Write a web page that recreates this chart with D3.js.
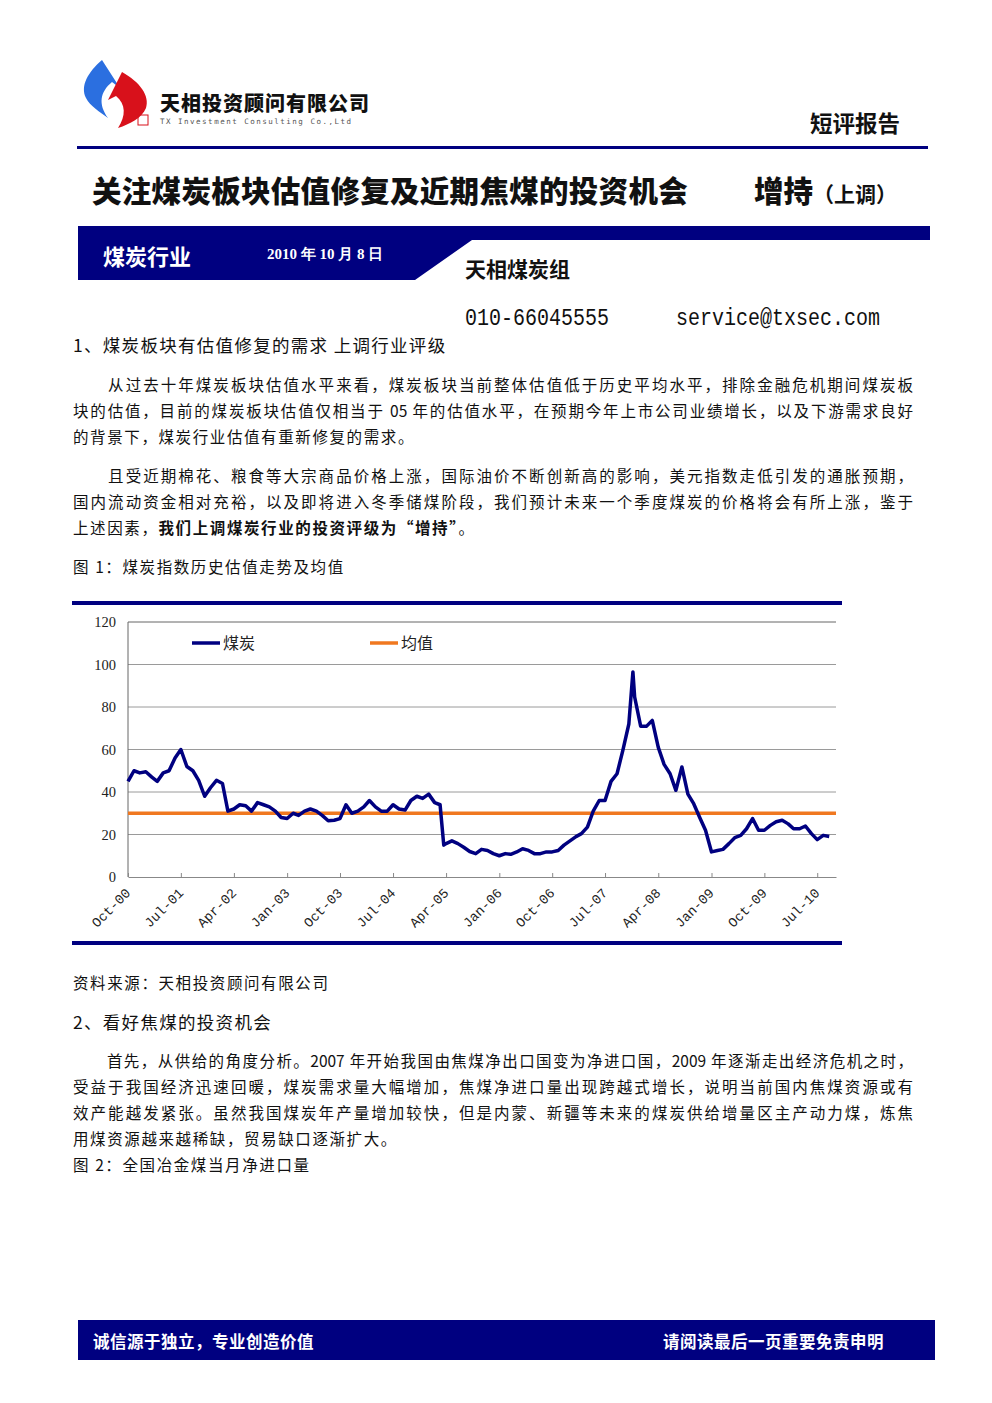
<!DOCTYPE html>
<html><head><meta charset="utf-8">
<script src="https://cdn.jsdelivr.net/npm/d3@7"></script>
<style>
body{margin:0;width:992px;height:1403px;background:#fff;position:relative;font-family:"Noto Sans CJK SC",sans-serif;color:#111;overflow:hidden}
.t{position:absolute;white-space:nowrap}
.ln{position:absolute;left:73px;width:840px;font-size:15.5px;text-align:justify;text-align-last:justify;white-space:nowrap;overflow:hidden}
.ln.last{text-align-last:left}
.cap{font-size:15.5px;letter-spacing:1.6px}
.mono{font-size:20px;font-family:'Liberation Mono','DejaVu Sans Mono',monospace;transform:scaleY(1.15);transform-origin:left top}
</style></head><body>
<svg id="page" width="992" height="1403" style="position:absolute;left:0;top:0"></svg>
<div class="t" style="left:160px;top:88px;font-size:20px;font-weight:900;letter-spacing:1px">天相投资顾问有限公司</div>
<div class="t" style="left:160px;top:117px;font-size:7.5px;letter-spacing:1.5px;color:#555;font-family:'DejaVu Sans Mono'">TX Investment Consulting Co.,Ltd</div>
<div class="t" style="left:810px;top:106px;font-size:22.5px;font-weight:700">短评报告</div>
<div class="t" style="left:92px;top:168px;font-size:29.5px;font-weight:900;letter-spacing:0.3px">关注煤炭板块估值修复及近期焦煤的投资机会</div>
<div class="t" style="left:754px;top:168px;font-size:29.5px;font-weight:900">增持<span style="font-size:21px;font-weight:700">（上调）</span></div>
<div class="t" style="left:103px;top:239px;font-size:22px;font-weight:700;color:#fff">煤炭行业</div>
<div class="t" style="left:267px;top:245px;font-size:15px;font-weight:700;color:#fff;font-family:'Liberation Serif',serif">2010 年 10 月 8 日</div>
<div class="t" style="left:465px;top:253px;font-size:21px;font-weight:700">天相煤炭组</div>
<div class="t mono" style="left:465px;top:305px">010-66045555</div>
<div class="t mono" style="left:676px;top:305px">service@txsec.com</div>
<div class="t" style="left:73px;top:332px;font-size:17.5px;letter-spacing:1.3px">1、煤炭板块有估值修复的需求 上调行业评级</div>
<div class="ln" style="top:373px">　　从过去十年煤炭板块估值水平来看，煤炭板块当前整体估值低于历史平均水平，排除金融危机期间煤炭板</div>
<div class="ln" style="top:399px">块的估值，目前的煤炭板块估值仅相当于 05 年的估值水平，在预期今年上市公司业绩增长，以及下游需求良好</div>
<div class="ln last" style="top:425px;letter-spacing:1.6px">的背景下，煤炭行业估值有重新修复的需求。</div>
<div class="ln" style="top:464px">　　且受近期棉花、粮食等大宗商品价格上涨，国际油价不断创新高的影响，美元指数走低引发的通胀预期，</div>
<div class="ln" style="top:490px">国内流动资金相对充裕，以及即将进入冬季储煤阶段，我们预计未来一个季度煤炭的价格将会有所上涨，鉴于</div>
<div class="ln last" style="top:516px;letter-spacing:1.6px">上述因素，<b>我们上调煤炭行业的投资评级为“增持”</b>。</div>
<div class="t cap" style="left:73px;top:555px">图 1：煤炭指数历史估值走势及均值</div>
<div class="t cap" style="left:73px;top:971px">资料来源：天相投资顾问有限公司</div>
<div class="t" style="left:73px;top:1009px;font-size:17.5px;letter-spacing:1.3px">2、看好焦煤的投资机会</div>
<div class="ln" style="top:1049px">　　首先，从供给的角度分析。2007 年开始我国由焦煤净出口国变为净进口国，2009 年逐渐走出经济危机之时，</div>
<div class="ln" style="top:1075px">受益于我国经济迅速回暖，煤炭需求量大幅增加，焦煤净进口量出现跨越式增长，说明当前国内焦煤资源或有</div>
<div class="ln" style="top:1101px">效产能越发紧张。虽然我国煤炭年产量增加较快，但是内蒙、新疆等未来的煤炭供给增量区主产动力煤，炼焦</div>
<div class="ln last" style="top:1127px;letter-spacing:1.6px">用煤资源越来越稀缺，贸易缺口逐渐扩大。</div>
<div class="t cap" style="left:73px;top:1153px">图 2：全国冶金煤当月净进口量</div>
<div class="t" style="left:93px;top:1329px;font-size:16.5px;font-weight:700;color:#fff;letter-spacing:0.5px">诚信源于独立，专业创造价值</div>
<div class="t" style="left:663px;top:1329px;font-size:16.5px;font-weight:700;color:#fff;letter-spacing:0.5px">请阅读最后一页重要免责申明</div>
<script>
// 煤炭指数 valuation series, [month, value]
const months = ["2000-10","2000-11","2000-12","2001-01","2001-02","2001-03","2001-04","2001-05","2001-06","2001-07","2001-08","2001-09","2001-10","2001-11","2001-12","2002-01","2002-02","2002-03","2002-04","2002-05","2002-06","2002-07","2002-08","2002-09","2002-10","2002-11","2002-12","2003-01","2003-02","2003-03","2003-04","2003-05","2003-06","2003-07","2003-08","2003-09","2003-10","2003-11","2003-12","2004-01","2004-02","2004-03","2004-04","2004-05","2004-06","2004-07","2004-08","2004-09","2004-10","2004-11","2004-12","2005-01","2005-02","2005-03","2005-03-20","2005-04","2005-05","2005-06","2005-07","2005-08","2005-09","2005-10","2005-11","2005-12","2006-01","2006-02","2006-03","2006-04","2006-05","2006-06","2006-07","2006-08","2006-09","2006-10","2006-11","2006-12","2007-01","2007-02","2007-03","2007-04","2007-05","2007-06","2007-07","2007-08","2007-09","2007-10","2007-11","2007-11-22","2007-12","2008-01","2008-02","2008-03","2008-04","2008-05","2008-06","2008-07","2008-08","2008-09","2008-10","2008-11","2008-12","2009-01","2009-02","2009-03","2009-04","2009-05","2009-06","2009-07","2009-08","2009-09","2009-10","2009-11","2009-12","2010-01","2010-02","2010-03","2010-04","2010-05","2010-06","2010-07","2010-08","2010-09"];
const coal = [45,50,49,49.5,47,45,49,50,56,60,52,50,45.5,38,42,45.5,44,31,32,34,33.5,31,35,34,33,31,28,27.5,30,29,31,32,31,29,26.5,26.7,27.5,34,30,31,33,36,33,31,31,34,32,31.5,36,38,37,39,35,34,15,15.7,17,15.7,14,12,11,13,12.5,11,10,11,10.7,11.8,13.3,12.5,11,11,11.8,11.8,12.5,15,17,19,20.4,23.5,31,36,36,45,48.6,59.6,72,96.5,84.7,71,71,73.7,61,53,48.6,40.8,51.8,39,34.5,28,22,11.8,12.5,13,15.7,18.5,19.6,22.7,27.5,22,22,24.3,26,26.7,25,22.7,22.7,24,20.4,17.6,19.6,19.1];
const meanValue = 30;
const tickMonths = ["2000-10","2001-07","2002-04","2003-01","2003-10","2004-07","2005-04","2006-01","2006-10","2007-07","2008-04","2009-01","2009-10","2010-07"];
const yTicks = [0,20,40,60,80,100,120];

const navy = "#000080";
const svg = d3.select("#page");

// header decoration
svg.append("path").attr("d","M102,60 C88,72 80,86 86,98 C90,106 100,112 108,118 C98,104 100,92 112,82 L120,88 Z").attr("fill","#2b6fe0");
svg.append("path").attr("d","M122,72 C140,82 150,96 146,108 C142,118 130,124 118,128 C126,116 126,104 116,96 L108,100 Z").attr("fill","#d8111b");
svg.append("rect").attr("x",138).attr("y",115).attr("width",10).attr("height",10).attr("fill","none").attr("stroke","#d8111b");
svg.append("rect").attr("x",77).attr("y",146).attr("width",851).attr("height",3).attr("fill",navy);
svg.append("path").attr("d","M78,226 L930,226 L930,240 L472,240 L415,280 L78,280 Z").attr("fill",navy);
svg.append("rect").attr("x",78).attr("y",1320).attr("width",857).attr("height",40).attr("fill",navy);

// chart frame lines
svg.append("rect").attr("x",72).attr("y",601).attr("width",770).attr("height",4).attr("fill",navy);
svg.append("rect").attr("x",72).attr("y",941).attr("width",770).attr("height",4).attr("fill",navy);

const parse = s => s.length > 7 ? d3.timeParse("%Y-%m-%d")(s) : d3.timeParse("%Y-%m")(s);
const data = months.map((m, i) => ({ date: parse(m), value: coal[i] }));

const x = d3.scaleTime().domain([parse("2000-10"), parse("2010-10-06")]).range([128, 836]);
const y = d3.scaleLinear().domain([0, 120]).range([877, 622]);

const g = svg.append("g");
g.selectAll(".grid").data(yTicks.filter(d => d > 0)).join("line")
  .attr("x1",128).attr("x2",836).attr("y1",d=>y(d)).attr("y2",d=>y(d))
  .attr("stroke",d=>d===120?"#666":"#9a9a9a").attr("stroke-width",1);
g.append("line").attr("x1",128).attr("x2",128).attr("y1",622).attr("y2",877).attr("stroke","#666");

const yAxis = g.append("g").attr("transform","translate(128,0)")
  .call(d3.axisLeft(y).tickValues(yTicks).tickSize(0).tickPadding(12));
yAxis.select(".domain").remove();
yAxis.selectAll("text").attr("font-family","'Liberation Serif',serif").attr("font-size",14.5).attr("fill","#222");

const xAxis = g.append("g").attr("transform","translate(0,877)")
  .call(d3.axisBottom(x).tickValues(tickMonths.map(parse)).tickFormat(d3.timeFormat("%b-%y")).tickSize(-4).tickSizeOuter(0));
xAxis.select(".domain").attr("stroke","#888");
xAxis.selectAll(".tick line").attr("stroke","#888");
xAxis.selectAll("text").attr("font-family","'Liberation Mono',monospace").attr("font-size",13.5).attr("fill","#222")
  .attr("text-anchor","end").attr("transform","translate(-6,8) rotate(-45)").attr("dy","0.7em");

g.append("line").attr("x1",128).attr("x2",836).attr("y1",y(meanValue)).attr("y2",y(meanValue))
  .attr("stroke","#f07820").attr("stroke-width",3.5);
g.append("path").datum(data).attr("fill","none").attr("stroke",navy).attr("stroke-width",3.5)
  .attr("stroke-linejoin","round")
  .attr("d", d3.line().x(d=>x(d.date)).y(d=>y(d.value)));

// legend
const leg = [{name:"煤炭",color:navy,x:192},{name:"均值",color:"#f07820",x:370}];
const lg = g.selectAll(".leg").data(leg).join("g").attr("transform",d=>`translate(${d.x},643)`);
lg.append("line").attr("x1",0).attr("x2",28).attr("stroke",d=>d.color).attr("stroke-width",3.5);
lg.append("text").attr("x",31).attr("dy","0.35em").attr("font-size",16).attr("fill","#222").text(d=>d.name);
</script>
</body></html>
